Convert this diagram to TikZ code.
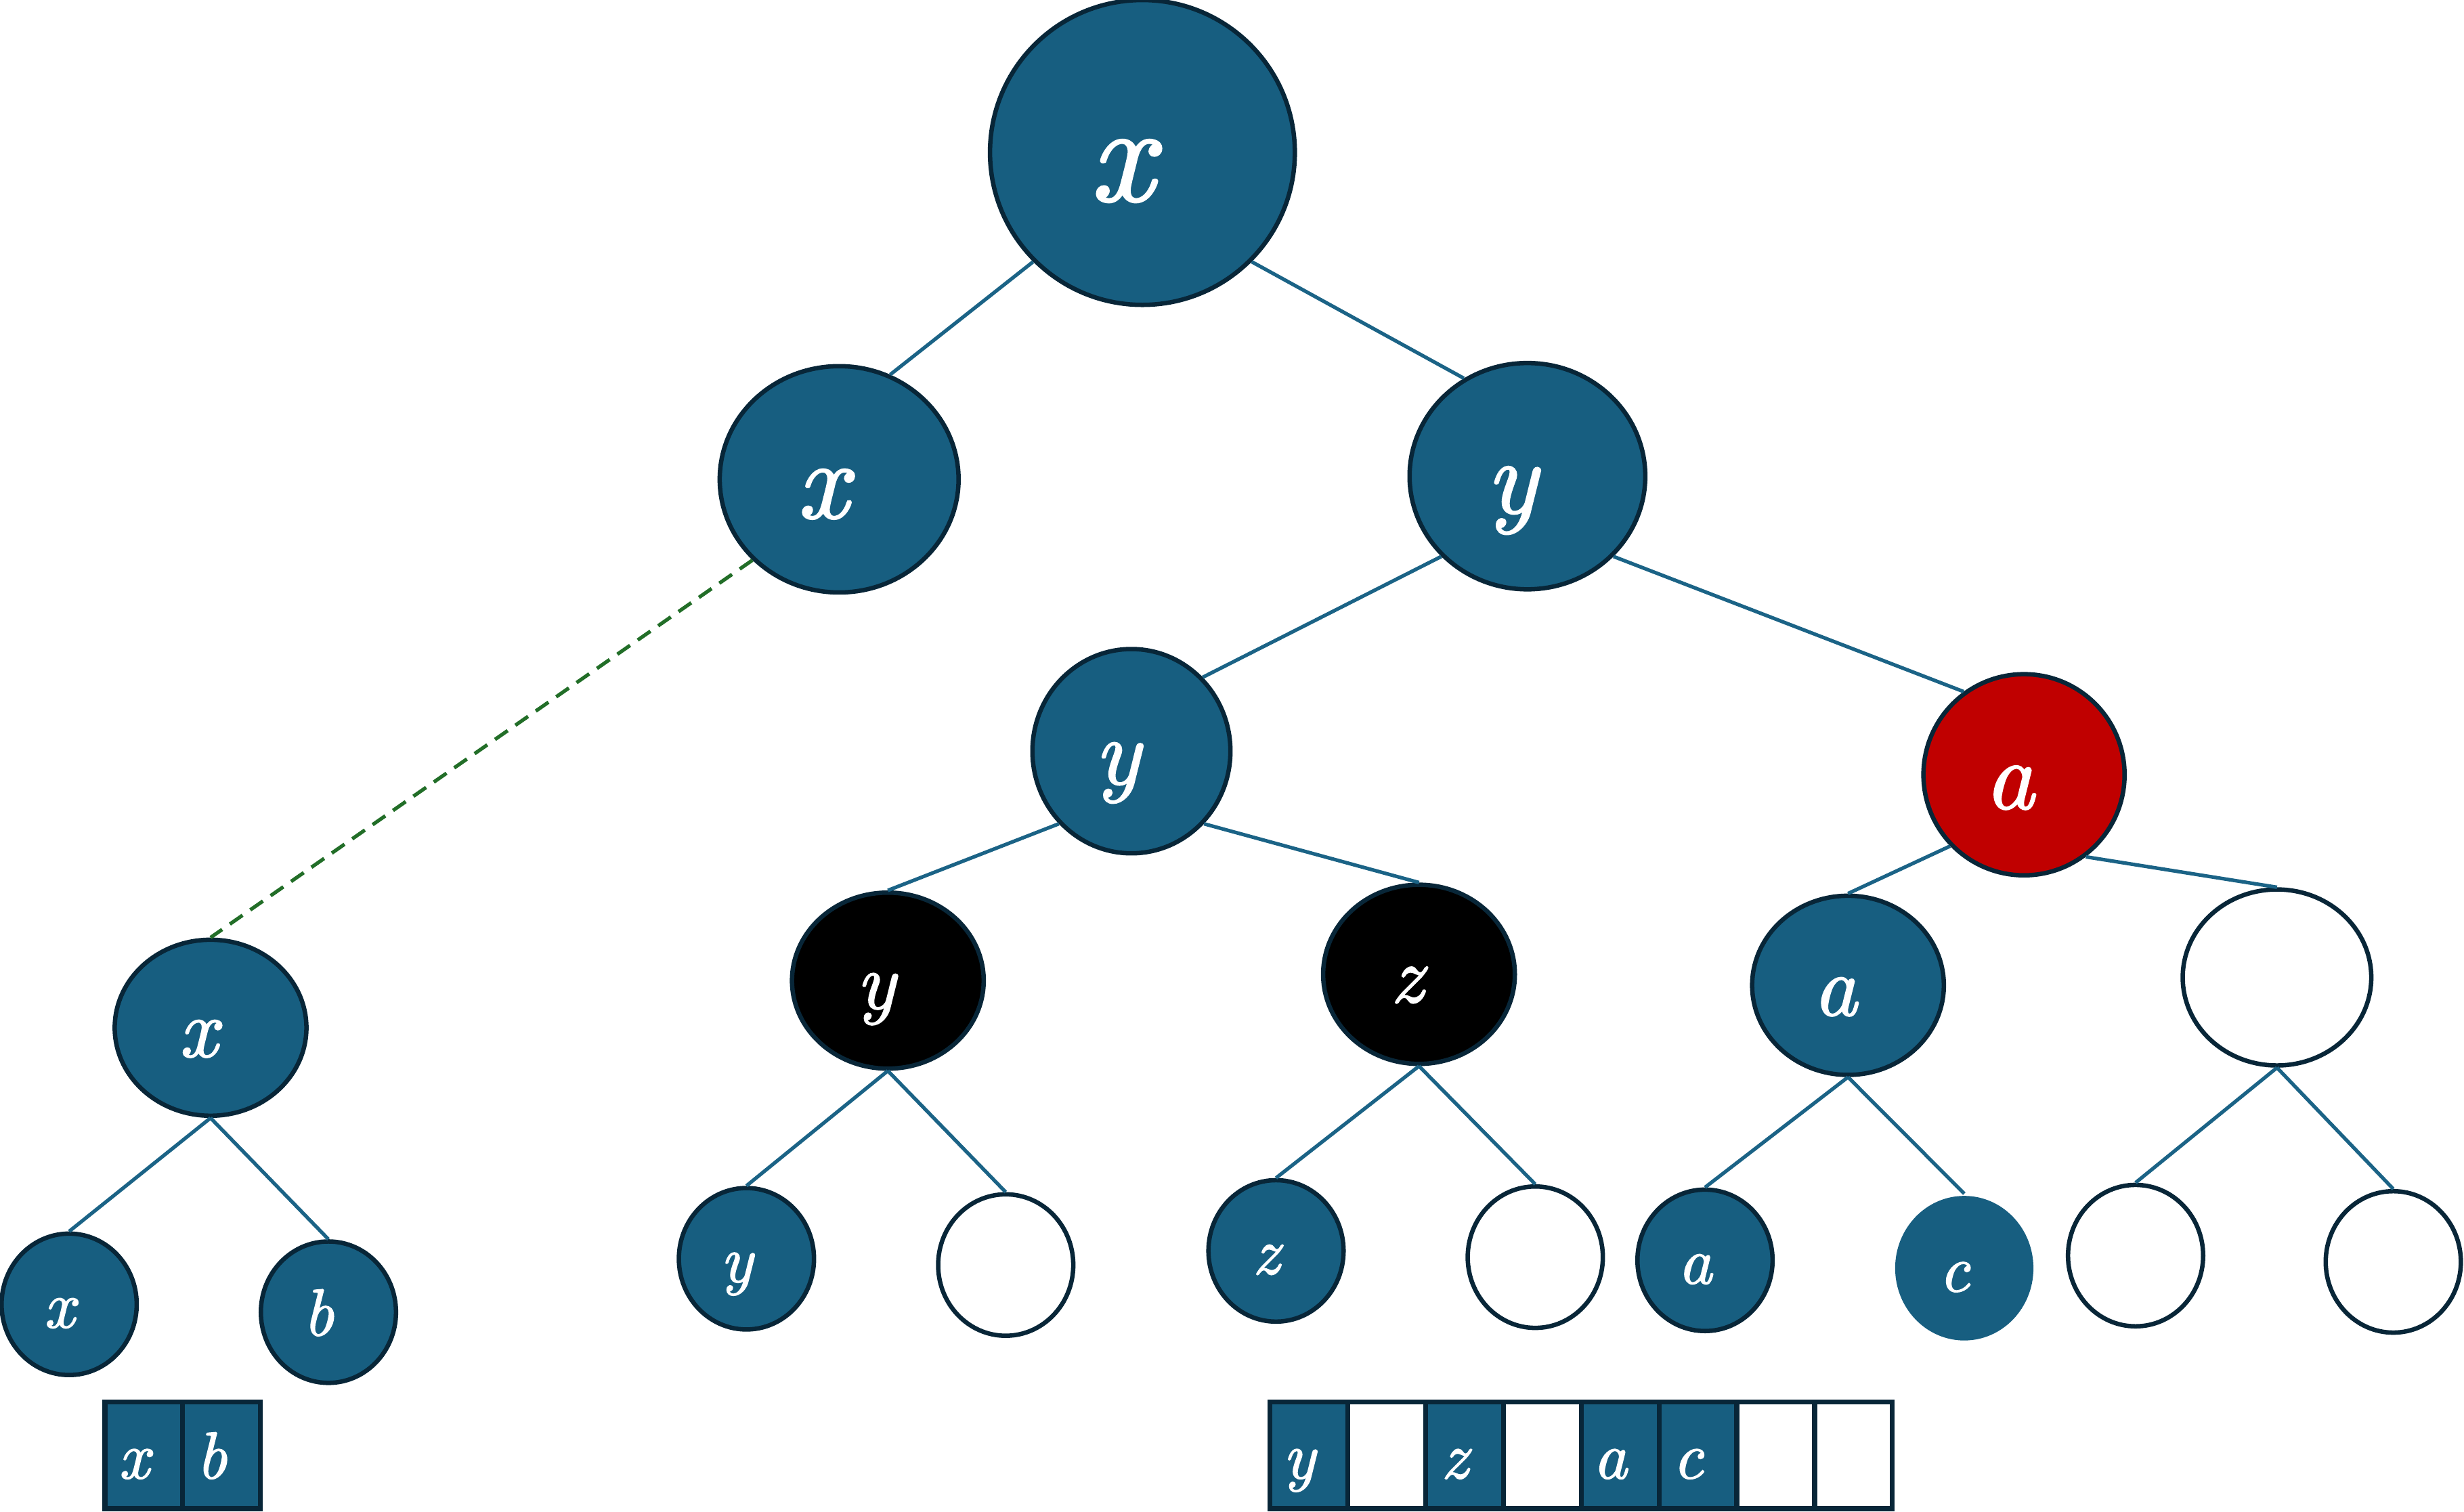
\documentclass[tikz,border=0pt]{standalone}
\usepackage{fontspec}
\newfontfamily\letterfont{lmroman10-italic.otf}[FakeBold=1.6]
\usetikzlibrary{shapes.geometric,positioning}

\definecolor{nodeblue}{RGB}{23,94,128}
\definecolor{rimdark}{RGB}{8,38,56}
\definecolor{edgeblue}{RGB}{27,99,134}
\definecolor{nodered}{RGB}{192,0,0}
\definecolor{dashgreen}{RGB}{34,110,40}

\tikzset{
  vert/.style={ellipse, draw=rimdark, line width=0.8pt, inner sep=0pt, text=white,
    text depth=0pt, execute at end node={\kern0.3em\rule{0pt}{0.7em}}},
  sz/.style 2 args={minimum width=#1, minimum height=#2},
  fs/.style={font=\fontsize{#1}{#1}\letterfont},
  treenode/.style={vert, fill=nodeblue},
  rednode/.style={vert, fill=nodered},
  blacknode/.style={vert, fill=black},
  emptynode/.style={vert, fill=white},
  leaf/.style={sz={8.6mm}{9mm}, fs=12},
  link/.style={draw=edgeblue, line width=0.65pt},
  cell/.style={rectangle, draw=rimdark, line width=0.9pt, minimum width=4.95mm,
    minimum height=6.8mm, inner sep=0pt, outer sep=0pt, text=white, fs=12,
    text depth=0pt, execute at end node={\kern0.3em\rule{0pt}{0.7em}}},
}

\begin{document}
\begin{tikzpicture}[x=0.1mm, y=-0.1mm]
        \useasboundingbox (0,0) rectangle (1568,962);

        % Draw the upper nodes
        \node[treenode, sz={19.4mm}{19.4mm}, fs=25] (root) at (727,97) {x};
        \node[treenode, sz={15.2mm}{14.4mm}, fs=20] (xl) at (534,305) {x};
        \node[treenode, sz={15mm}{14.4mm}, fs=19] (yr) at (972,303) {y};
        \node[treenode, sz={12.6mm}{13mm}, fs=17] (ym) at (720,478) {y};
        \node[rednode, sz={12.8mm}{12.8mm}, fs=17.5] (ar) at (1288,493) {a};

        % Third row
        \node[blacknode, sz={12.2mm}{11.2mm}, fs=14.5] (yb) at (565,624) {y};
        \node[blacknode, sz={12.2mm}{11.4mm}, fs=14.5] (zb) at (903,620) {z};
        \node[treenode, sz={12.2mm}{11.4mm}, fs=15.5] (am) at (1176,627) {a};
        \node[emptynode, sz={12mm}{11.2mm}] (em) at (1449,622) {};
        \node[treenode, sz={12.2mm}{11.2mm}, fs=15] (xs) at (134,654) {x};

        % Leaves
        \node[treenode, leaf] (lx) at (44,830) {x};
        \node[treenode, leaf] (lb) at (209,835) {b};
        \node[treenode, leaf] (ly) at (475,801) {y};
        \node[emptynode, leaf] (le1) at (640,805) {};
        \node[treenode, leaf] (lz) at (812,796) {z};
        \node[emptynode, leaf] (le2) at (977,800) {};
        \node[treenode, leaf] (la) at (1085,802) {a};
        \node[treenode, leaf, draw=none, sz={8.8mm}{9.2mm}] (lc) at (1250,807) {c};
        \node[emptynode, leaf] (le3) at (1359,799) {};
        \node[emptynode, leaf] (le4) at (1523,803) {};

        % Connect the nodes
        \draw[link]
		(root.-135) edge (xl.64)
		(root.-45) edge (yr.123)
		(yr.-137) edge (ym.46)
		(yr.-43) edge (ar.126)
		(ym.-135) edge (yb.90)
		(ym.-45) edge (zb.90)
		(ar.-136) edge (am.90)
		(ar.-53) edge (em.90)
		(xs.south) edge (lx.north)
		(xs.south) edge (lb.north)
		(yb.south) edge (ly.north)
		(yb.south) edge (le1.north)
		(zb.south) edge (lz.north)
		(zb.south) edge (le2.north)
		(am.south) edge (la.north)
		(am.south) edge (lc.north)
		(em.south) edge (le3.north)
		(em.south) edge (le4.north);
        \draw[dashgreen, line width=0.65pt, dash pattern=on 2.8pt off 1.7pt]
		(xl.-137) -- (xs.90);

        % Arrays
        \node[cell, fill=nodeblue] (cx) at (91.5,926) {x};
        \node[cell, fill=nodeblue, right=0pt of cx] (cb) {b};

        \node[cell, fill=nodeblue] (c1) at (833,926) {y};
        \node[cell, fill=white, right=0pt of c1] (c2) {};
        \node[cell, fill=nodeblue, right=0pt of c2] (c3) {z};
        \node[cell, fill=white, right=0pt of c3] (c4) {};
        \node[cell, fill=nodeblue, right=0pt of c4] (c5) {a};
        \node[cell, fill=nodeblue, right=0pt of c5] (c6) {c};
        \node[cell, fill=white, right=0pt of c6] (c7) {};
        \node[cell, fill=white, right=0pt of c7] (c8) {};

    \end{tikzpicture}
\end{document}
